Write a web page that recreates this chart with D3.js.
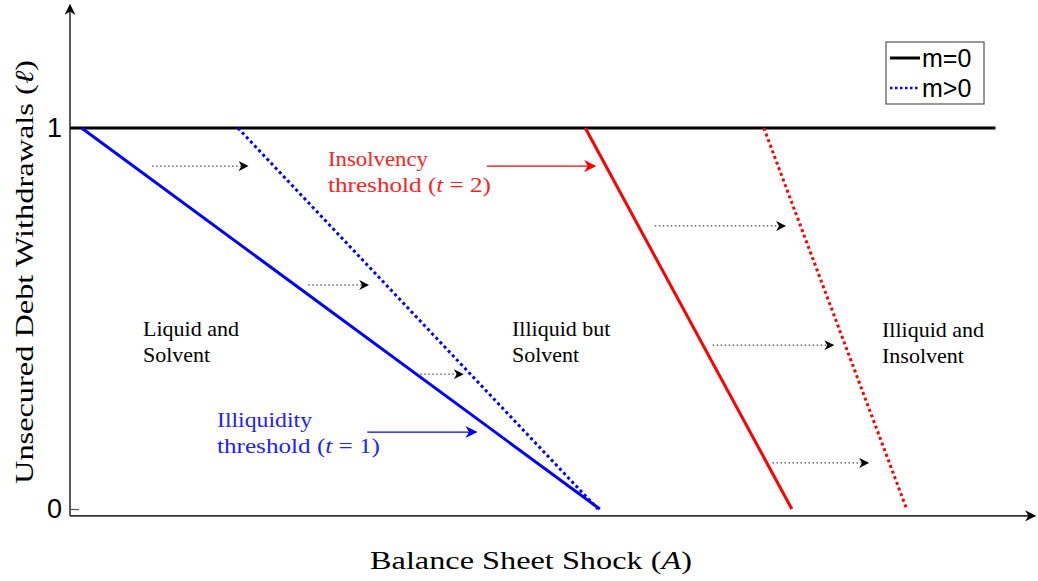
<!DOCTYPE html>
<html>
<head>
<meta charset="utf-8">
<script src="https://cdn.jsdelivr.net/npm/d3@7"></script>
<style>
  body { margin: 0; background: #fff; }
  .serif { font-family: "Liberation Serif", "Times New Roman", serif; }
  .sans { font-family: "Liberation Sans", Arial, sans-serif; }
</style>
</head>
<body>
<div id="chart"></div>
<script>
// SVG size
var svgWidth = 1038;
var svgHeight = 581;

// boundaries: value of A where each threshold line meets l = 1 and l = 0
var boundaryNames = ["Illiquidity (m=0)", "Illiquidity (m>0)", "Insolvency (m=0)", "Insolvency (m>0)"];
var boundaryTopA = [1.2, 17.4, 53.4, 71.9];
var boundaryBottomA = [54.9, 54.7, 74.8, 86.7];
var boundaryColor = ["blue", "blue", "red", "red"];
var boundaryDotted = [false, true, false, true];

// the l = 1 cap line
var capFromA = 0;
var capToA = 95.9;

// dotted shift arrows (m=0 -> m>0)
var shiftL = [0.900, 0.588, 0.354, 0.743, 0.430, 0.121];
var shiftFromA = [8.5, 24.7, 36.3, 60.6, 66.6, 72.8];
var shiftToA = [18.4, 30.9, 40.7, 74.1, 79.1, 82.7];

// annotation arrows
var noteL = [0.900, 0.202];
var noteFromA = [43.2, 30.8];
var noteToA = [54.4, 42.1];

// tick labels
var yTicks = [0, 1];

var svg = d3.select("#chart")
  .append("svg")
  .attr("width", svgWidth)
  .attr("height", svgHeight);

var xScale = d3.scaleLinear().domain([0, 100]).range([70, 1035]);
var yScale = d3.scaleLinear().domain([0, 1]).range([509, 128]);

// arrow heads
var defs = svg.append("defs");
function addMarker(id, color, size) {
  defs.append("marker")
    .attr("id", id)
    .attr("viewBox", "0 -5 10 10")
    .attr("refX", 9)
    .attr("refY", 0)
    .attr("markerWidth", size)
    .attr("markerHeight", size)
    .attr("markerUnits", "userSpaceOnUse")
    .attr("orient", "auto")
    .append("path")
    .attr("d", "M0,-5 L10,0 L0,5 L3,0 Z")
    .attr("fill", color);
}
addMarker("headBlack", "#000", 10);
addMarker("headAxis", "#000", 11);
addMarker("headRed", "red", 12);
addMarker("headBlue", "blue", 12);

// axes lines with arrows
var axisY0 = -0.018;
svg.append("line")
  .attr("x1", xScale(0)).attr("y1", yScale(axisY0))
  .attr("x2", xScale(0)).attr("y2", 5)
  .attr("stroke", "#000").attr("stroke-width", 1.3)
  .attr("marker-end", "url(#headAxis)");
svg.append("line")
  .attr("x1", xScale(0)).attr("y1", yScale(axisY0))
  .attr("x2", xScale(100)).attr("y2", yScale(axisY0))
  .attr("stroke", "#333").attr("stroke-width", 1.6)
  .attr("marker-end", "url(#headAxis)");

var leftAxis = d3.axisLeft(yScale)
  .tickValues(yTicks)
  .tickFormat(d3.format("d"))
  .tickSizeInner(-9)
  .tickSizeOuter(0)
  .tickPadding(8);

var yAxisG = svg.append("g")
  .attr("transform", `translate(${xScale(0)}, 0)`)
  .call(leftAxis);
yAxisG.select(".domain").remove();
yAxisG.selectAll(".tick line").attr("stroke", "#555").attr("stroke-width", 1.2);
yAxisG.selectAll(".tick text")
  .attr("class", "sans")
  .style("font-size", "27px")
  .attr("fill", "#000");

// cap line at l = 1
svg.append("line")
  .attr("x1", xScale(capFromA)).attr("y1", yScale(1))
  .attr("x2", xScale(capToA)).attr("y2", yScale(1))
  .attr("stroke", "#000").attr("stroke-width", 3);

// threshold lines
var bounds = boundaryNames.map(function(n, i) {
  return { name: n, top: boundaryTopA[i], bottom: boundaryBottomA[i], color: boundaryColor[i], dotted: boundaryDotted[i] };
});
svg.selectAll(".bound")
  .data(bounds)
  .enter()
  .append("line")
  .attr("class", "bound")
  .attr("x1", d => xScale(d.top)).attr("y1", yScale(1))
  .attr("x2", d => xScale(d.bottom)).attr("y2", yScale(0))
  .attr("stroke", d => d.color)
  .attr("stroke-width", 3)
  .attr("stroke-dasharray", d => d.dotted ? "3,3" : null);

// shift arrows
var shifts = shiftL.map(function(l, i) { return { l: l, from: shiftFromA[i], to: shiftToA[i] }; });
svg.selectAll(".shift")
  .data(shifts)
  .enter()
  .append("line")
  .attr("class", "shift")
  .attr("x1", d => xScale(d.from)).attr("y1", d => yScale(d.l))
  .attr("x2", d => xScale(d.to)).attr("y2", d => yScale(d.l))
  .attr("stroke", "#000")
  .attr("stroke-width", 0.9)
  .attr("stroke-dasharray", "1.5,2.5")
  .attr("marker-end", "url(#headBlack)");

// annotation arrows
var noteColor = ["red", "blue"];
var noteHead = ["url(#headRed)", "url(#headBlue)"];
noteL.forEach(function(l, i) {
  svg.append("line")
    .attr("x1", xScale(noteFromA[i])).attr("y1", yScale(l))
    .attr("x2", xScale(noteToA[i])).attr("y2", yScale(l))
    .attr("stroke", noteColor[i])
    .attr("stroke-width", 1.3)
    .attr("marker-end", noteHead[i]);
});

// helper for multi-line labels; widths (optional) stretch each line like the TeX font
function twoLine(x, y, lines, color, size, widths) {
  lines.forEach(function(parts, i) {
    var t = svg.append("text")
      .attr("class", "serif")
      .attr("fill", color)
      .attr("x", x)
      .attr("y", y + i * 26)
      .style("font-size", size + "px");
    if (widths) t.attr("textLength", widths[i]).attr("lengthAdjust", "spacingAndGlyphs");
    parts.forEach(function(p) {
      var ts = t.append("tspan").text(p.t);
      if (p.i) ts.style("font-style", "italic");
    });
  });
}

// region labels
twoLine(143, 336, [[{t: "Liquid and"}], [{t: "Solvent"}]], "#000", 22);
twoLine(512, 336, [[{t: "Illiquid but"}], [{t: "Solvent"}]], "#000", 22);
twoLine(882, 337, [[{t: "Illiquid and"}], [{t: "Insolvent"}]], "#000", 22);

// threshold labels
twoLine(328, 166, [[{t: "Insolvency"}], [{t: "threshold ("}, {t: "t", i: true}, {t: " = 2)"}]], "#f22", 21, [100, 163]);
twoLine(217, 427, [[{t: "Illiquidity"}], [{t: "threshold ("}, {t: "t", i: true}, {t: " = 1)"}]], "#22f", 21, [95, 163]);

// axis titles
svg.append("text")
  .attr("class", "serif")
  .attr("text-anchor", "middle")
  .attr("transform", "translate(33, 272) rotate(-90)")
  .attr("textLength", 424)
  .attr("lengthAdjust", "spacingAndGlyphs")
  .style("font-size", "26px")
  .selectAll("tspan")
  .data([{t: "Unsecured Debt Withdrawals ("}, {t: "ℓ", i: true}, {t: ")"}])
  .enter()
  .append("tspan")
  .style("font-style", d => d.i ? "italic" : null)
  .text(d => d.t);

svg.append("text")
  .attr("class", "serif")
  .attr("text-anchor", "middle")
  .attr("x", 531)
  .attr("y", 569)
  .attr("textLength", 322)
  .attr("lengthAdjust", "spacingAndGlyphs")
  .style("font-size", "26px")
  .selectAll("tspan")
  .data([{t: "Balance Sheet Shock ("}, {t: "A", i: true}, {t: ")"}])
  .enter()
  .append("tspan")
  .style("font-style", d => d.i ? "italic" : null)
  .text(d => d.t);

// legend
var legend = svg.append("g").attr("transform", "translate(886, 42)");
legend.append("rect")
  .attr("width", 98).attr("height", 62)
  .attr("fill", "#fff").attr("stroke", "#555").attr("stroke-width", 1.2);
var legendNames = ["m=0", "m>0"];
var legendColor = ["#000", "blue"];
var legendDash = [null, "2.5,2.5"];
legendNames.forEach(function(n, i) {
  legend.append("line")
    .attr("x1", 4).attr("x2", 34)
    .attr("y1", 16 + i * 30).attr("y2", 16 + i * 30)
    .attr("stroke", legendColor[i])
    .attr("stroke-width", i ? 2.5 : 3)
    .attr("stroke-dasharray", legendDash[i]);
  legend.append("text")
    .attr("class", "sans")
    .attr("x", 36).attr("y", 25 + i * 30)
    .style("font-size", "25px")
    .text(n);
});
</script>
</body>
</html>
